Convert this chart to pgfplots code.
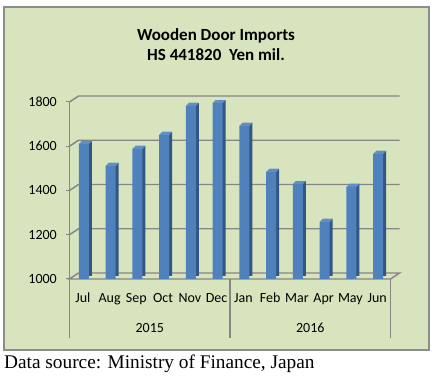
\documentclass[border=0pt]{standalone}
\usepackage{pgfplots}
\pgfplotsset{compat=1.18}
\usepackage{fontspec}
\setmainfont{Carlito}
\newfontfamily\timesfont{Liberation Serif}
\definecolor{bg}{RGB}{215,228,189}
\definecolor{barfront}{RGB}{79,129,189}
\definecolor{barside}{RGB}{52,86,130}
\definecolor{capc}{RGB}{96,142,200}
\definecolor{gridc}{RGB}{134,134,134}
\definecolor{boxc}{RGB}{140,140,140}
\pgfdeclareplotmark{cap}{%
  \pgfpathmoveto{\pgfpoint{-4pt}{0pt}}%
  \pgfpathlineto{\pgfpoint{-1pt}{3pt}}%
  \pgfpathlineto{\pgfpoint{9pt}{3pt}}%
  \pgfpathlineto{\pgfpoint{6pt}{0pt}}%
  \pgfpathclose
  \pgfusepathqfill}
\begin{document}
\begin{tikzpicture}[x=1pt,y=1pt]
\path[fill=white] (0,0) rectangle (441,377);
\draw[boxc, line width=1.8pt, fill=bg] (4,27) rectangle (429,370);
% back wall grid
\foreach \yy in {142.25,186.5,230.75,275}{
  \draw[gridc, line width=1.4pt] (69.5,\yy) -- (78.5,\yy+6) -- (399.5,\yy+6);
  \draw[gridc, line width=1pt] (66,\yy) -- (69.5,\yy);
}
% floor
\draw[gridc, line width=1.4pt] (78.5,104) -- (399.5,104) -- (390.5,98) -- (69.5,98) -- cycle;
\draw[gridc, line width=1pt] (66,98) -- (69.5,98);
% left wall
\draw[gridc, line width=1.4pt] (69.5,98) -- (69.5,275);
% category group separators
\foreach \xx in {69.5,230,390.5}{ \draw[gridc, line width=1.4pt] (\xx,98) -- (\xx,39); }
\node[font=\fontsize{17}{20}\bfseries\selectfont, align=center] at (216,332) {Wooden Door Imports\\HS 441820\ \ Yen mil.};
\node[anchor=base west, inner sep=0pt, font=\timesfont\fontsize{19.3}{22}\selectfont] at (4,9) {Data source: Ministry of Finance, Japan};
\begin{axis}[
  at={(69.5pt,98pt)}, anchor=south west, scale only axis,
  width=321pt, height=177pt,
  xmin=-0.5, xmax=11.5, ymin=1000, ymax=1800,
  ytick={1000,1200,...,1800},
  xtick=data,
  xticklabels={Jul,Aug,Sep,Oct,Nov,Dec,Jan,Feb,Mar,Apr,May,Jun},
  axis line style={draw=none}, major tick length=0pt,
  ybar, bar width=10pt, clip=false,
  ticklabel style={font=\fontsize{14}{16}\selectfont},
  yticklabel style={anchor=east, inner sep=0pt, xshift=-12.5pt},
  xticklabel style={anchor=base, inner sep=0pt, yshift=-24pt},
  scaled y ticks=false,
  /pgf/number format/assume math mode=true,
  /pgf/number format/1000 sep={},
]
\addplot[fill=barside, draw=none, bar shift=4pt, yshift=3pt] coordinates {
(0,1610) (1,1511) (2,1588) (3,1651) (4,1782) (5,1795)
(6,1692) (7,1484) (8,1429) (9,1258) (10,1416) (11,1565)};
\addplot[fill=barfront, draw=none, bar shift=1pt] coordinates {
(0,1610) (1,1511) (2,1588) (3,1651) (4,1782) (5,1795)
(6,1692) (7,1484) (8,1429) (9,1258) (10,1416) (11,1565)};
\addplot[only marks, mark=cap, color=capc, mark options={fill=capc, draw=none}] coordinates {
(0,1610) (1,1511) (2,1588) (3,1651) (4,1782) (5,1795)
(6,1692) (7,1484) (8,1429) (9,1258) (10,1416) (11,1565)};
\node[anchor=base, inner sep=0pt, font=\fontsize{14}{16}\selectfont, yshift=-53.5pt] at (axis cs:2.5,1000) {2015};
\node[anchor=base, inner sep=0pt, font=\fontsize{14}{16}\selectfont, yshift=-53.5pt] at (axis cs:8.5,1000) {2016};
\end{axis}
\end{tikzpicture}
\end{document}
